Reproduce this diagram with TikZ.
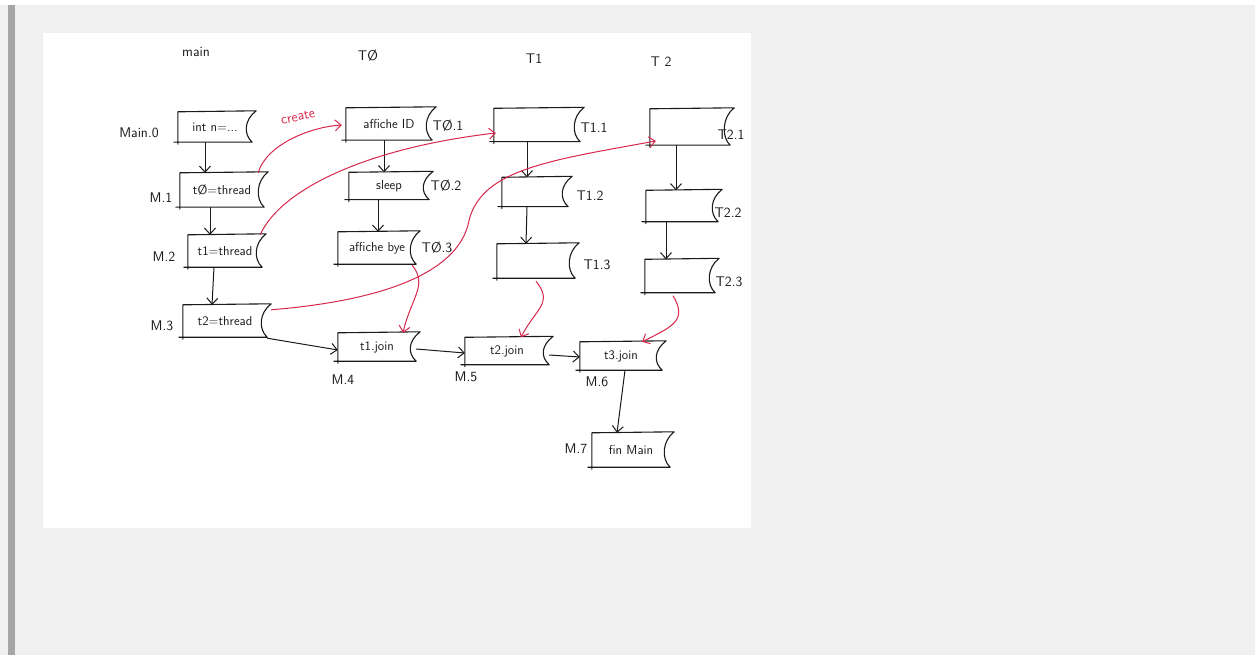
\documentclass[tikz,border=0pt]{standalone}
\usetikzlibrary{arrows.meta}
\definecolor{bgray}{HTML}{F0F0F0}
\definecolor{bar}{HTML}{A6A6A6}
\definecolor{ink}{HTML}{1A1A1A}
\definecolor{redink}{HTML}{D8274B}
\tikzset{
  box/.style={draw=none, inner sep=0pt, font=\sffamily\fontsize{13}{15}\selectfont, text=ink},
  lbl/.style={inner sep=0pt, font=\sffamily\fontsize{14}{16}\selectfont, text=ink},
  outline/.style={draw=ink, line width=1.1pt, line join=round, line cap=round},
  arr/.style={draw=ink, line width=1pt, -{Straight Barb[length=6pt,width=11pt]}},
  rarr/.style={draw=redink, line width=1pt, -{Straight Barb[length=6pt,width=11pt]}},
}
\newcommand\wout[1]{%
  \draw[outline] ([yshift=-2pt]#1.south west) -- (#1.north west) -- ([xshift=4pt,yshift=1pt]#1.north east)
    .. controls ([xshift=-8pt,yshift=-8pt]#1.north east) and ([xshift=-9pt,yshift=8pt]#1.south east) .. (#1.south east)
    -- ([xshift=-4pt]#1.south west);}
\begin{document}
\begin{tikzpicture}[x=1pt,y=-1pt]
\useasboundingbox (0,0) rectangle (1255,655);
\fill[white] (0,0) rectangle (1255,655);
\fill[bgray] (0,5) rectangle (1255,655);
\fill[bar] (8,5) rectangle (15,655);
\fill[white] (43,33) rectangle (751,528);

% column titles
\node[lbl] (hmain) at (196,52) {main};
\node[lbl] (ht0) at (368,56) {TØ};
\node[lbl] (ht1) at (534,59) {T1};
\node[lbl] (ht2) at (661,62) {T 2};

% main column
\node[box, minimum width=74, minimum height=30] (m0) at (215,127) {int n=...};
\node[box, minimum width=84, minimum height=34] (m1) at (222,190) {tØ=thread};
\node[box, minimum width=74, minimum height=32] (m2) at (225,251) {t1=thread};
\node[box, minimum width=84, minimum height=32] (m3) at (225,321) {t2=thread};
\node[box, minimum width=78, minimum height=28] (m4) at (377,347) {t1.join};
\node[box, minimum width=84, minimum height=27] (m5) at (507,351) {t2.join};
\node[box, minimum width=82, minimum height=28] (m6) at (621,356) {t3.join};
\node[box, minimum width=78, minimum height=34] (m7) at (631,450) {fin Main};

% T0 column
\node[box, minimum width=86, minimum height=32] (t01) at (389,124) {affiche ID};
\node[box, minimum width=80, minimum height=27] (t02) at (389,186) {sleep};
\node[box, minimum width=78, minimum height=32] (t03) at (377,248) {affiche bye};

% T1 column
\node[box, minimum width=86, minimum height=33] (t11) at (537,125) {};
\node[box, minimum width=66, minimum height=29] (t12) at (535,192) {};
\node[box, minimum width=78, minimum height=34] (t13) at (536,261) {};

% T2 column
\node[box, minimum width=80, minimum height=36] (t21) at (690,127) {};
\node[box, minimum width=72, minimum height=31] (t22) at (682,206) {};
\node[box, minimum width=70, minimum height=33] (t23) at (680,276) {};

\foreach \n in {m0,m1,m2,m3,m4,m5,m6,m7,t01,t02,t03,t11,t12,t13,t21,t22,t23}{\wout{\n}}

% labels
\node[lbl] (lm0) at (139,133) {Main.0};
\node[lbl] (lm1) at (161,198) {M.1};
\node[lbl] (lm2) at (164,257) {M.2};
\node[lbl] (lm3) at (162,326) {M.3};
\node[lbl] (lm4) at (343,380) {M.4};
\node[lbl] (lm5) at (466,377) {M.5};
\node[lbl] (lm6) at (597,382) {M.6};
\node[lbl] (lm7) at (576,449) {M.7};
\node[lbl] (lt01) at (448,126) {TØ.1};
\node[lbl] (lt02) at (446,186) {TØ.2};
\node[lbl] (lt03) at (437,248) {TØ.3};
\node[lbl] (lt11) at (594,128) {T1.1};
\node[lbl] (lt12) at (590,196) {T1.2};
\node[lbl] (lt13) at (597,265) {T1.3};
\node[lbl] (lt21) at (731,135) {T2.1};
\node[lbl] (lt22) at (728,213) {T2.2};
\node[lbl] (lt23) at (729,282) {T2.3};

% black flow arrows
\draw[arr] ([xshift=-10pt]m0.south) -- ([xshift=-17pt]m1.north);
\draw[arr] ([xshift=-12pt]m1.south) -- ([xshift=-15pt]m2.north);
\draw[arr] ([xshift=-11pt]m2.south) -- ([xshift=-13pt]m3.north);
\draw[arr] ([yshift=-1pt]m3.south east) -- ([yshift=-3pt]m4.west);
\draw[arr] ([yshift=-2pt]m4.east) -- ([yshift=-2pt]m5.west);
\draw[arr] ([yshift=-4pt]m5.east) -- ([yshift=-1pt]m6.west);
\draw[arr] ([xshift=4pt]m6.south) -- ([xshift=-14pt]m7.north);
\draw[arr] ([xshift=-5pt]t01.south) -- ([xshift=-5pt]t02.north);
\draw[arr] ([xshift=-11pt]t02.south) -- ([xshift=1pt]t03.north);
\draw[arr] ([xshift=-10pt]t11.south) -- ([xshift=-8pt]t12.north);
\draw[arr] ([xshift=-8pt]t12.south) -- ([xshift=-10pt]t13.north);
\draw[arr] ([xshift=-14pt]t21.south) -- ([xshift=-6pt]t22.north);
\draw[arr] ([xshift=-16pt]t22.south) -- ([xshift=-14pt]t23.north);

% red arrows
\draw[rarr] ([xshift=-6pt]m1.north east) .. controls +(8,-28) and +(-32,2) .. ([xshift=-4pt,yshift=-1pt]t01.west);
\node[inner sep=0pt, text=redink, font=\sffamily\fontsize{14}{16}\selectfont, rotate=12] (create) at (298,117) {create};
\draw[rarr] ([xshift=-2pt]m2.north east) .. controls +(20,-45) and +(-130,15) .. ([xshift=2pt,yshift=-8pt]t11.west);
\coordinate (mid3) at (468,225);
\draw[rarr] ([xshift=4pt,yshift=-5pt]m3.north east) .. controls +(120,-10) and +(-12,45) .. (mid3)
  .. controls +(10,-55) and +(-110,20) .. ([xshift=6pt,yshift=-14pt]t21.west);
\draw[rarr] ([xshift=-4pt,yshift=-1pt]t03.south east) .. controls +(16,20) and +(8,-35) .. ([xshift=26pt]m4.north);
\draw[rarr] ([yshift=-3pt]t13.south) .. controls +(18,22) and +(14,-28) .. ([xshift=14pt]m5.north);
\draw[rarr] ([xshift=-7pt,yshift=-3pt]t23.south) .. controls +(15,25) and +(30,-15) .. ([xshift=21pt]m6.north);
\end{tikzpicture}
\end{document}
